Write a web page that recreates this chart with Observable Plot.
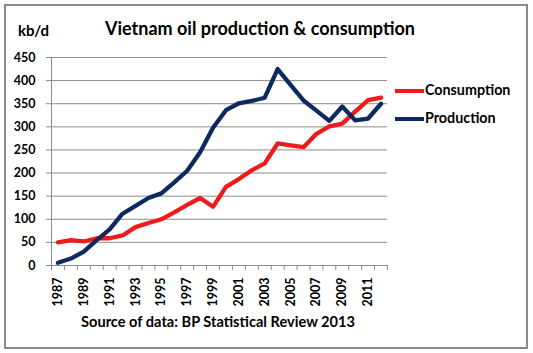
<!DOCTYPE html>
<html><head><meta charset="utf-8">
<script src="https://cdn.jsdelivr.net/npm/d3@7"></script>
<script src="https://cdn.jsdelivr.net/npm/@observablehq/plot@0.6"></script>
<style>
body{margin:0;background:#fff;font-family:Lato,"Open Sans",sans-serif;color:#000;}
#wrap{position:relative;width:533px;height:353px;overflow:hidden;background:#fff;}
#frame{position:absolute;left:4px;top:4px;width:520px;height:341px;border:2px solid #8a8a8a;}
#chart{position:absolute;left:0;top:0;}
.t{position:absolute;font-weight:bold;white-space:nowrap;}
#title{left:0;width:520px;text-align:center;top:17px;font-size:18px;}
#unit{left:18px;top:21px;font-size:15px;}
#source{left:0;width:436px;text-align:center;top:313px;font-size:14.6px;}
#legend{position:absolute;left:395px;top:80px;}
.li{position:relative;height:28px;font-weight:bold;font-size:14.3px;}
.li .sw{position:absolute;left:0;top:9px;width:29px;height:4px;}
.li .lb{position:absolute;left:30px;top:1px;}
</style></head><body>
<div id="wrap">
<div id="frame"></div>
<div id="chart"></div>
<div class="t" id="title">Vietnam oil production &amp; consumption</div>
<div class="t" id="unit">kb/d</div>
<div class="t" id="source">Source of data: BP Statistical Review 2013</div>
<div id="legend"></div>
</div>
<script>
const years = [1987,1988,1989,1990,1991,1992,1993,1994,1995,1996,1997,1998,1999,2000,2001,2002,2003,2004,2005,2006,2007,2008,2009,2010,2011,2012];
const consumption = [50,55,52,59,59,65,83,92,100,115,131,146,127,170,187,206,221,264,260,256,285,301,307,333,358,363];
const production = [6,15,30,55,78,112,129,146,156,180,205,245,298,336,351,356,363,425,391,357,335,313,344,314,318,350];
const seriesNames = ["Consumption","Production"];
const seriesColors = ["#ee1b1b","#0d2a5e"];
const yTicks = [0,50,100,150,200,250,300,350,400,450];
const xTickLabels = [1987,1989,1991,1993,1995,1997,1999,2001,2003,2005,2007,2009,2011];

const data = [];
years.forEach((yr,i)=>{
  data.push({year:yr, value:consumption[i], series:seriesNames[0]});
});
years.forEach((yr,i)=>{
  data.push({year:yr, value:production[i], series:seriesNames[1]});
});
const boundaries = years.map(y=>y-0.5).concat([years[years.length-1]+0.5]);
const xDomain = [boundaries[0], boundaries[boundaries.length-1]];

const plot = Plot.plot({
  width:533, height:353,
  marginLeft:51, marginRight:146, marginTop:57, marginBottom:88,
  x:{type:"linear", domain:xDomain},
  y:{domain:[yTicks[0], yTicks[yTicks.length-1]]},
  color:{domain:seriesNames, range:seriesColors},
  style:{fontFamily:"Lato, 'Open Sans', sans-serif", fontWeight:"bold", fontSize:"12.5px", color:"#000", background:"transparent", overflow:"visible"},
  marks:[
    Plot.gridY(yTicks.slice(1), {stroke:"#8c8c8c", strokeOpacity:1, strokeWidth:1}),
    Plot.ruleX([xDomain[0]], {stroke:"#8c8c8c", strokeWidth:1}),
    Plot.ruleY([yTicks[0]], {stroke:"#8c8c8c", strokeWidth:1}),
    Plot.axisY({ticks:yTicks, tickSize:5, tickPadding:11, label:null, stroke:"#8c8c8c", fill:"#000", tickFormat:d=>String(d)}),
    Plot.axisX({ticks:boundaries, tickSize:5, tickFormat:()=>"", label:null, stroke:"#8c8c8c"}),
    Plot.axisX({ticks:xTickLabels, tickSize:0, tickPadding:12, tickRotate:-90, label:null, fill:"#000", tickFormat:d=>String(d)}),
    Plot.line(data, {x:"year", y:"value", z:"series", stroke:"series", strokeWidth:4.3, strokeLinejoin:"round", strokeLinecap:"round"})
  ]
});
document.getElementById("chart").appendChild(plot);

const legend = document.getElementById("legend");
seriesNames.forEach((n,i)=>{
  const row = document.createElement("div");
  row.className = "li";
  row.innerHTML = `<div class="sw" style="background:${seriesColors[i]}"></div><div class="lb">${n}</div>`;
  legend.appendChild(row);
});
</script>
</body></html>
